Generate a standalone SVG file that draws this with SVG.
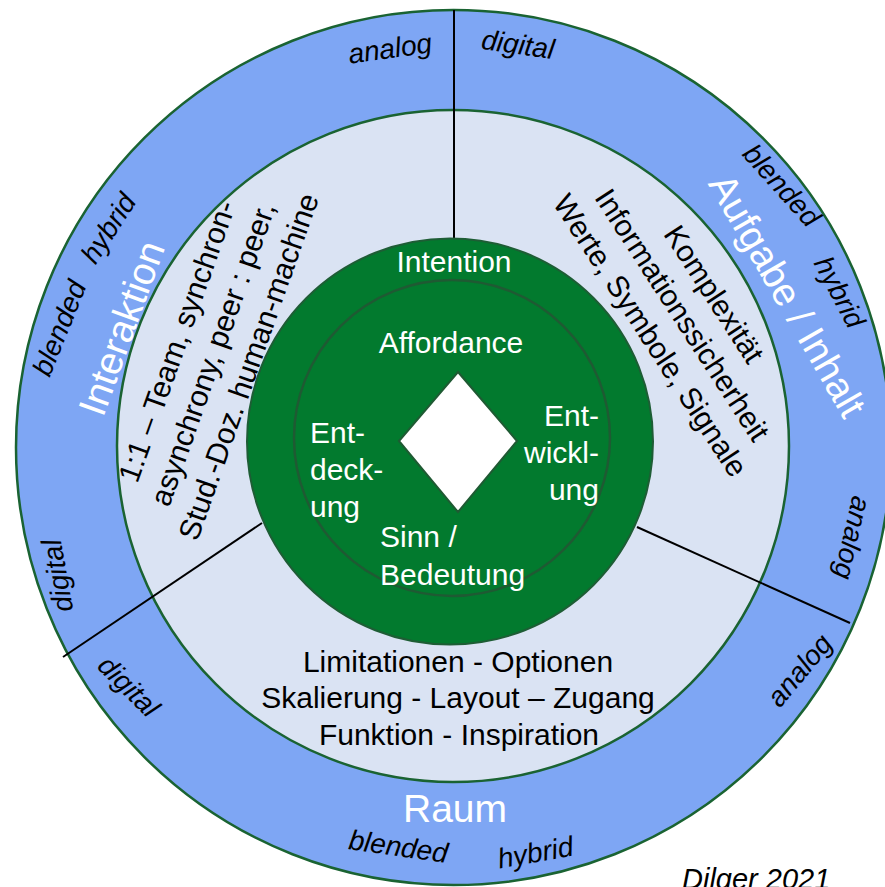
<svg xmlns="http://www.w3.org/2000/svg" width="885" height="887" viewBox="0 0 885 887">
<style>
.ring{stroke:#1a6332;stroke-width:2.5}
.t{font-family:"Liberation Sans",Arial,sans-serif;text-anchor:middle}
.w{fill:#ffffff;font-size:30px}
.k{fill:#000000;font-size:30px}
.big{fill:#ffffff;font-size:39px}
.it{fill:#000000;font-size:28px;font-style:italic}
.conn{stroke:#000000;stroke-width:2;fill:none}
</style>
<rect width="885" height="887" fill="#ffffff"/>
<g id="outer-ring">
<circle class="ring" cx="453.5" cy="447.5" r="437.5" fill="#7ea6f4"/>
</g>
<g id="middle-ring">
<circle class="ring" cx="453" cy="446" r="336" fill="#dae3f3"/>
</g>
<g id="connectors">
<line class="conn" x1="454" y1="10" x2="454" y2="239"/>
<line class="conn" x1="63" y1="657" x2="262" y2="523"/>
<line class="conn" x1="637" y1="527" x2="850" y2="623"/>
</g>
<g id="core">
<circle cx="450" cy="441.5" r="203" fill="#027a2e" stroke="#1e5d35" stroke-width="2"/>
<circle cx="452" cy="438" r="158" fill="none" stroke="#1f5a33" stroke-width="2.5"/>
<polygon points="458,372 517,441 458,512 399,441" fill="#ffffff" stroke="#1f5a33" stroke-width="2"/>
</g>
<g id="core-labels">
<text class="t w" x="454" y="272">Intention</text>
<text class="t w" x="451" y="353">Affordance</text>
<text class="t w" style="text-anchor:start"><tspan x="310" y="443">Ent-</tspan><tspan x="310" y="480">deck-</tspan><tspan x="310" y="517">ung</tspan></text>
<text class="t w" style="text-anchor:end"><tspan x="599" y="426">Ent-</tspan><tspan x="599" y="463">wickl-</tspan><tspan x="599" y="500">ung</tspan></text>
<text class="t w" style="text-anchor:start"><tspan x="380" y="547">Sinn /</tspan><tspan x="380" y="585">Bedeutung</tspan></text>
</g>
<g id="interaktion">
<g transform="translate(213,354) rotate(-70.5)">
<text class="t k" x="0" y="-28">1:1 – Team, synchron-</text>
<text class="t k" x="0" y="10">asynchrony, peer : peer,</text>
<text class="t k" x="0" y="48">Stud.-Doz. human-machine</text>
</g>
<text class="t big" transform="translate(121,328) rotate(-70)" y="14">Interaktion</text>
<text class="t it" transform="translate(108,228) rotate(-57)" y="10">hybrid</text>
<text class="t it" transform="translate(59,328) rotate(-68)" y="10">blended</text>
<text class="t it" transform="translate(390,48) rotate(-8)" y="10">analog</text>
<text class="t it" transform="translate(57,576) rotate(-100)" y="10">digital</text>
</g>
<g id="aufgabe">
<g transform="translate(682,315) rotate(57)">
<text class="t k" x="0" y="-28">Komplexität</text>
<text class="t k" x="0" y="10">Informationssicherheit</text>
<text class="t k" x="0" y="48">Werte, Symbole, Signale</text>
</g>
<text class="t big" transform="translate(788,295) rotate(60)" y="14">Aufgabe / Inhalt</text>
<text class="t it" transform="translate(518,44) rotate(8)" y="10">digital</text>
<text class="t it" transform="translate(782,185) rotate(48)" y="10">blended</text>
<text class="t it" transform="translate(840,292) rotate(62)" y="10">hybrid</text>
<text class="t it" transform="translate(853,538) rotate(103)" y="10">analog</text>
</g>
<g id="raum">
<text class="t k" x="458" y="672">Limitationen - Optionen</text>
<text class="t k" x="458" y="708">Skalierung - Layout – Zugang</text>
<text class="t k" x="459" y="745">Funktion - Inspiration</text>
<text class="t big" x="455" y="822">Raum</text>
<text class="t it" transform="translate(397,856) rotate(8)">blended</text>
<text class="t it" transform="translate(537,862) rotate(-10)">hybrid</text>
<text class="t it" transform="translate(129,686) rotate(45)" y="10">digital</text>
<text class="t it" transform="translate(799,670) rotate(-50)" y="10">analog</text>
</g>
<g id="credit">
<text class="t it" x="682" y="889" style="text-anchor:start;font-size:29px">Dilger 2021</text>
</g>
</svg>
